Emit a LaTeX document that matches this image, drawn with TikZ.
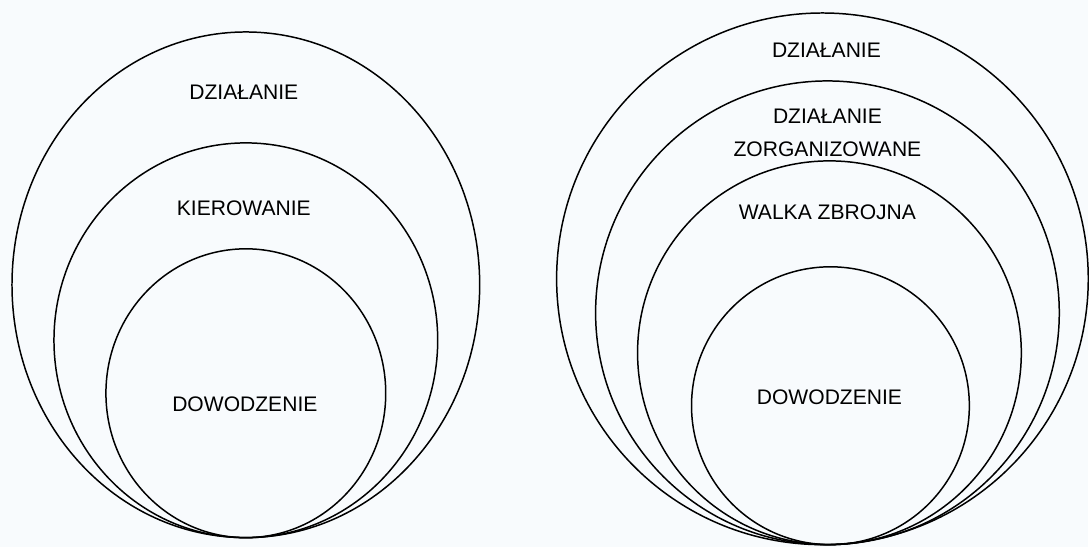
\documentclass[tikz,border=0pt]{standalone}
\usepackage{fontspec}
\setmainfont{Liberation Sans}
\definecolor{paper}{RGB}{248,251,253}
\begin{document}
\begin{tikzpicture}[
    x=0.02cm, y=-0.02cm,
    ring/.style={draw, line width=0.85pt},
    txt/.style={font=\fontsize{12}{19}\selectfont, align=center, inner sep=0pt}
]
    \fill[paper] (0,0) rectangle (1089,547);

    % left: three rings touching at the bottom
    \draw[ring] (246,285) ellipse [x radius=234, y radius=253];
    \draw[ring] (246,340.5) ellipse [x radius=192, y radius=197.5];
    \draw[ring] (246,393.5) ellipse [x radius=140, y radius=144.5];
    \node[txt] (dzialanieL) at (244,92) {DZIAŁANIE};
    \node[txt] (kierowanie) at (244,208) {KIEROWANIE};
    \node[txt] (dowodzenieL) at (245,405) {DOWODZENIE};

    % right: four rings touching at the bottom
    \draw[ring] (823,279) circle [radius=266];
    \draw[ring] (828,313) circle [radius=232];
    \draw[ring] (830,353) circle [radius=192];
    \draw[ring] (831,406) circle [radius=139];
    \node[txt] (dzialanieR) at (827,50) {DZIAŁANIE};
    \node[txt] (zorganizowane) at (828,133) {DZIAŁANIE\\ZORGANIZOWANE};
    \node[txt] (walka) at (828,212) {WALKA ZBROJNA};
    \node[txt] (dowodzenieR) at (830,398) {DOWODZENIE};
\end{tikzpicture}
\end{document}
